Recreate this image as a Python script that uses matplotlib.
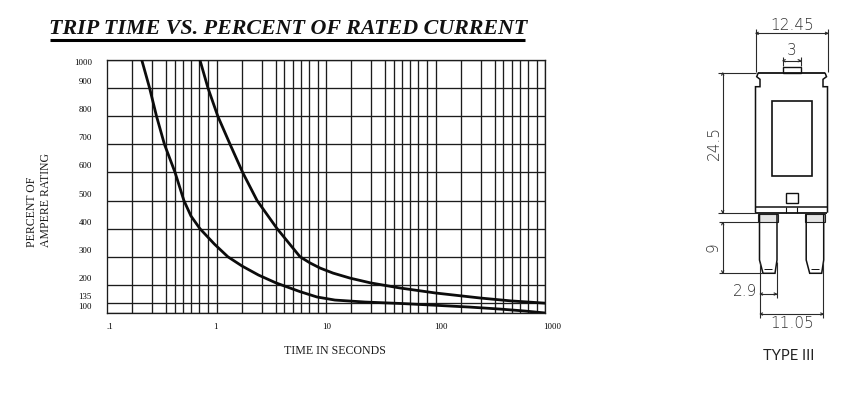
import matplotlib
matplotlib.use("Agg")
import matplotlib.pyplot as plt
from matplotlib.patches import Rectangle

# curve 1 (lower) and curve 2 (upper)
time_low = [0.206, 0.243, 0.281, 0.332, 0.415, 0.50, 0.58, 0.70, 0.95, 1.26, 1.70, 2.4, 3.47, 5.75, 8.2, 12, 22.6, 47, 94, 205, 386, 653, 1000]
pct_low = [1000, 900, 800, 700, 600, 500, 445, 400, 345, 300, 267, 235, 207, 176, 157, 146, 139, 134, 128, 121, 114, 107, 100]
time_high = [0.70, 0.83, 1.02, 1.32, 1.72, 2.33, 3.55, 5.75, 7.1, 8.75, 11.5, 16.5, 25.4, 47, 100, 259, 488, 1000]
pct_high = [1000, 900, 800, 700, 600, 500, 400, 300, 278, 260, 242, 224, 207, 189, 171, 153, 143, 135]

pct_grid = [100, 135, 200, 300, 400, 500, 600, 700, 800, 900, 1000]
pct_labels = ["100", "135", "200", "300", "400", "500", "600", "700", "800", "900", "1000"]
# the sheet's time grid is not a true log grid, these are the values where its lines sit
grid_mult = [1.69, 2.58, 3.45, 4.14, 4.95, 5.86, 6.93, 8.32, 10]
decades = [0.1, 1, 10, 100]
time_ticks = [0.1, 1, 10, 100, 1000]
time_labels = [".1", "1", "10", "100", "1000"]

W, H = 850, 395
INK = "#1c1c1c"
DIM = "#2a2a2a"
SERIF = "Liberation Serif"

fig = plt.figure(figsize=(W / 100, H / 100), dpi=100, facecolor="white")

# chart
ax = fig.add_axes([107.4 / W, 1 - 313 / H, (545.3 - 107.4) / W, (313 - 60) / H])
ax.set_xscale("log")
ax.set_xlim(0.1, 1000)
ax.set_ylim(100, 1000)
ax.minorticks_off()
ax.tick_params(which="both", length=0, labelleft=False, labelbottom=False)
for s in ax.spines.values():
    s.set_linewidth(0.95)
    s.set_color(INK)
for d in decades:
    for m in grid_mult:
        ax.axvline(d * m, color=INK, lw=0.95, zorder=1)
for p in pct_grid:
    ax.axhline(p, color=INK, lw=0.95, zorder=1)

ax.plot(time_low, pct_low, color="#0c0c0c", lw=2.0, zorder=3)
ax.plot(time_high, pct_high, color="#0c0c0c", lw=2.0, zorder=3)

# labels sit a bit above their lines on the original
for p, lab in zip(pct_grid, pct_labels):
    off = -2.2 if p == 1000 else 4.3
    ax.annotate(lab, xy=(0, p), xycoords=ax.get_yaxis_transform(), xytext=(-11.3, off),
                textcoords="offset points", ha="right", va="center",
                fontsize=6.3, family=SERIF, color="#000000")
for t, lab, dx in zip(time_ticks, time_labels, [1.9, -0.7, 0.2, 3.8, 4.8]):
    ax.annotate(lab, xy=(t, 0), xycoords=ax.get_xaxis_transform(), xytext=(dx, -10),
                textcoords="offset points", ha="center", va="center",
                fontsize=6.3, family=SERIF, color="#000000")

# overlay in pixel coordinates for title, axis labels and the fuse drawing
ov = fig.add_axes([0, 0, 1, 1], zorder=5)
ov.set_xlim(0, W)
ov.set_ylim(H, 0)
ov.axis("off")
ov.patch.set_alpha(0)


def line(xs, ys, lw=1.1, color="#111111"):
    ov.plot(xs, ys, color=color, lw=lw, solid_capstyle="butt", solid_joinstyle="miter")


def dim_text(x, y, s, rot=0, size=11):
    ov.text(x, y, s, ha="center", va="center", rotation=rot, fontsize=size,
            family="DejaVu Sans", color="#333333", fontweight="light")


def arrow_h(x0, x1, y):
    line([x0, x1], [y, y], 0.8, DIM)
    line([x0 + 3, x0, x0 + 3], [y - 1.2, y, y + 1.2], 0.8, DIM)
    line([x1 - 3, x1, x1 - 3], [y - 1.2, y, y + 1.2], 0.8, DIM)


def arrow_v(x, y0, y1):
    line([x, x], [y0, y1], 0.8, DIM)
    line([x - 1.2, x, x + 1.2], [y0 + 3, y0, y0 + 3], 0.8, DIM)
    line([x - 1.2, x, x + 1.2], [y1 - 3, y1, y1 - 3], 0.8, DIM)


ov.text(288, 29.5, "TRIP TIME VS. PERCENT OF RATED CURRENT", ha="center", va="center",
        fontsize=15.8, family=SERIF, fontweight="bold", fontstyle="italic", color="#111111")
line([50, 525], [39.5, 39.5], 2.2, "#000000")
ov.text(32, 247, "PERCENT OF", rotation=90, ha="center", va="bottom", fontsize=8.5, family=SERIF, color=INK)
ov.text(46, 247, "AMPERE RATING", rotation=90, ha="center", va="bottom", fontsize=8.5, family=SERIF, color=INK)
ov.text(335, 351, "TIME IN SECONDS", ha="center", va="center", fontsize=8.6, family=SERIF, color=INK)

# fuse outline
line([758.3, 825], [72.7, 72.7], 1.3)
line([758.3, 756.7, 760, 760, 755.5, 755.5], [72.7, 76.7, 79.3, 86.7, 86.7, 212.7], 1.1)
line([825, 826.5, 823, 823, 827.5, 827.5], [72.7, 76.7, 79.3, 86.7, 86.7, 212.7], 1.1)
line([755.5, 827.5], [212.7, 212.7], 1.3)
line([755.5, 827.5], [207.3, 207.3], 1.1)
line([786, 786], [207.3, 212.7], 0.8)
line([797, 797], [207.3, 212.7], 0.8)
ov.add_patch(Rectangle((782.7, 66.7), 18, 6, fill=False, ec="#111111", lw=1.0))
ov.add_patch(Rectangle((771.7, 101), 40, 75, fill=False, ec="#111111", lw=1.2))
ov.add_patch(Rectangle((785.7, 192.7), 12, 10, fill=False, ec="#111111", lw=1.0))

# the two blades
for dx in [0, 46.7]:
    line([759.5 + dx, 759.5 + dx, 763 + dx, 775 + dx, 777 + dx, 777 + dx],
         [214, 260, 273.3, 273.3, 260, 214], 1.1)
    ov.add_patch(Rectangle((758.5 + dx, 214), 19.5, 7.5, fc="#e4e4e4", ec="#222222", lw=0.8))
    line([764 + dx, 772.5 + dx], [269, 269], 0.7)

# dimensions
line([755.7, 755.7], [29, 72], 0.8, DIM)
line([828, 828], [29, 72], 0.8, DIM)
arrow_h(755.7, 828, 33.3)
dim_text(792, 25.5, "12.45")
line([782.7, 782.7], [56.7, 66], 0.8, DIM)
line([800.7, 800.7], [56.7, 66], 0.8, DIM)
arrow_h(782.7, 800.7, 60.7)
dim_text(792, 50.7, "3")
line([718, 756], [72.7, 72.7], 0.8, DIM)
line([718, 756], [213, 213], 0.8, DIM)
arrow_v(722.7, 72.7, 213)
dim_text(714.5, 143, "24.5", rot=90)
line([719, 758], [222.3, 222.3], 0.8, DIM)
line([719, 762], [273.3, 273.3], 0.8, DIM)
arrow_v(722.7, 222.3, 273.3)
dim_text(713, 247, "9", rot=90)
line([760, 760], [262, 318], 0.8, DIM)
line([776.7, 776.7], [262, 298], 0.8, DIM)
line([823.3, 823.3], [262, 318], 0.8, DIM)
arrow_h(760, 776.7, 294)
dim_text(745, 292, "2.9")
arrow_h(760, 823.3, 314)
dim_text(791.7, 324, "11.05")

ov.text(788.3, 355.7, "TYPE III", ha="center", va="center", fontsize=10.6, family="Lato", color="#222222")

fig.savefig("out.png", dpi=100, facecolor="white")
